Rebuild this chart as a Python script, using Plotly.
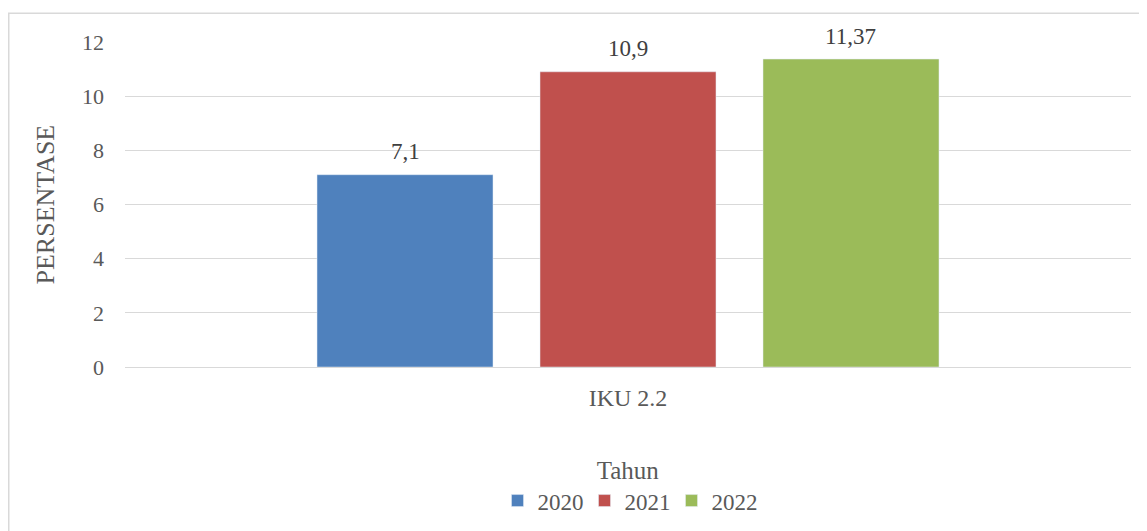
import plotly.graph_objects as go

categories = ["IKU 2.2"]
years = ["2020", "2021", "2022"]
values_2020 = [7.1]
values_2021 = [10.9]
values_2022 = [11.37]
labels_2020 = ["7,1"]
labels_2021 = ["10,9"]
labels_2022 = ["11,37"]
colors = ["#4F81BD", "#C0504D", "#9BBB59"]

FONT = "Liberation Serif, serif"
GREY = "#595959"

# the page body adds an 8px offset; figure is sized/shifted to compensate
OFF = 8
W, H = 1147 - OFF, 531 - OFF
l, r, t, b = 125 - OFF, 16, 41.5 - OFF, 163.5
pw, ph = W - l - r, H - t - b
BARGAP = 0.335
BARGROUPGAP = 0.2108

fig = go.Figure()
series = list(zip(years, [values_2020, values_2021, values_2022],
                  [labels_2020, labels_2021, labels_2022], colors))
for name, vals, labs, col in series:
    fig.add_trace(go.Bar(x=categories, y=vals, name=name, marker_color=col))

slot = pw * (1 - BARGAP) / len(series)
annotations = []
for i, (name, vals, labs, col) in enumerate(series):
    for cat, v, lab in zip(categories, vals, labs):
        annotations.append(dict(
            x=cat, y=v, text=lab, showarrow=False, xref="x", yref="y",
            xshift=(i - (len(series) - 1) / 2) * slot, yshift=23,
            yanchor="middle", xanchor="center",
            font=dict(family=FONT, size=23, color="#404040")))

annotations.append(dict(
    x=(45 - 125) / pw, y=0.5, xref="paper", yref="paper", text="PERSENTASE",
    textangle=-90, showarrow=False, xanchor="center", yanchor="middle",
    font=dict(family=FONT, size=26, color=GREY)))

fig.update_layout(
    width=W, height=H,
    margin=dict(l=l, r=r, t=t, b=b, autoexpand=False),
    paper_bgcolor="white", plot_bgcolor="white",
    font=dict(family=FONT, size=22, color=GREY),
    barmode="group", bargap=BARGAP, bargroupgap=BARGROUPGAP,
    showlegend=True,
    legend=dict(
        orientation="h", x=0.5, xanchor="center", y=-0.245, yanchor="top",
        title=dict(text="Tahun", side="top center", font=dict(family=FONT, size=25, color=GREY)),
        font=dict(family=FONT, size=23, color=GREY),
        itemwidth=30, entrywidth=42, traceorder="normal",
    ),
    xaxis=dict(showgrid=False, showline=False, ticks="", ticklabelstandoff=14,
               tickfont=dict(family=FONT, size=24, color=GREY)),
    yaxis=dict(range=[0, 12], dtick=2, showgrid=True, gridcolor="#D9D9D9", gridwidth=1.3,
               zeroline=True, zerolinecolor="#D9D9D9", zerolinewidth=1.3,
               showline=False, ticks="", ticklabelstandoff=20,
               tickfont=dict(family=FONT, size=22, color=GREY)),
    annotations=annotations,
    shapes=[dict(type="rect", xref="paper", yref="paper",
                 x0=(8 - 125 + 0.75) / pw, x1=(1160 - 125) / pw,
                 y0=(367.5 - 545) / ph, y1=1 + (41.5 - 12 - 0.75) / ph,
                 line=dict(color="#D9D9D9", width=1.5), fillcolor="rgba(0,0,0,0)", layer="below")],
)

fig.write_html("out.html")
